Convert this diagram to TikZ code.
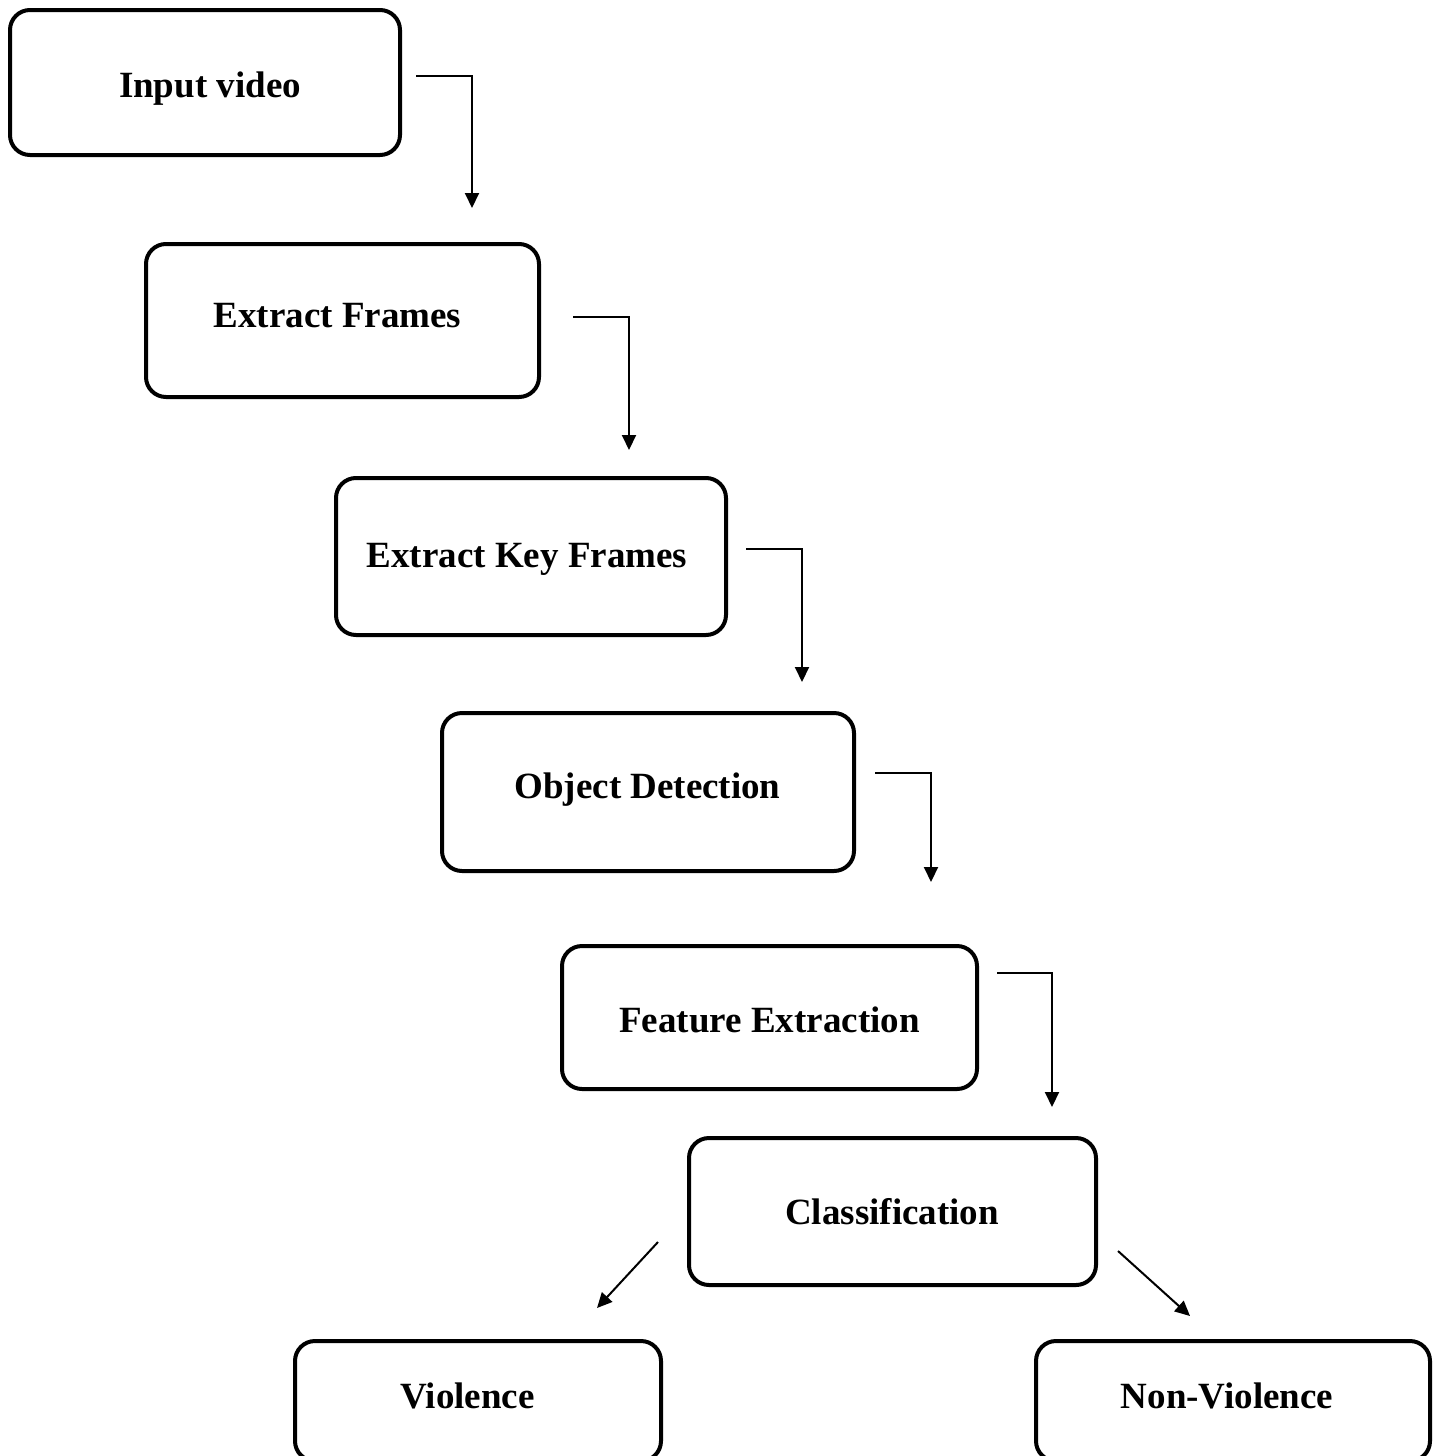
\documentclass[tikz,border=0pt]{standalone}
\usepackage{fontspec}
\setmainfont{Liberation Serif}
\usetikzlibrary{arrows.meta}
\begin{document}
\begin{tikzpicture}[x=1pt,y=-1pt,
  stepbox/.style={draw=black,line width=4pt,rounded corners=20pt,inner sep=0pt},
  lbl/.style={anchor=base,inner sep=0pt,font=\fontsize{37}{44}\selectfont\bfseries},
  conn/.style={line width=2pt,-{Triangle[width=14pt,length=15pt]}}]
\useasboundingbox (0,0) rectangle (1441,1456);
% boxes
\node[stepbox,minimum width=390pt,minimum height=145pt] (b1) at (205,82.5) {};
\node[stepbox,minimum width=393pt,minimum height=153pt] (b2) at (342.5,320.5) {};
\node[stepbox,minimum width=390pt,minimum height=157pt] (b3) at (531,556.5) {};
\node[stepbox,minimum width=412pt,minimum height=158pt] (b4) at (648,792) {};
\node[stepbox,minimum width=415pt,minimum height=143pt] (b5) at (769.5,1017.5) {};
\node[stepbox,minimum width=407pt,minimum height=147pt] (b6) at (892.5,1211.5) {};
\node[stepbox,minimum width=366pt,minimum height=120pt] (b7) at (478,1401) {};
\node[stepbox,minimum width=394pt,minimum height=120pt] (b8) at (1233,1401) {};
% labels
\node[lbl] (t1) at (210,97) {Input video};
\node[lbl] (t2) at (337.5,327.5) {Extract Frames};
\node[lbl] (t3) at (527,567) {Extract Key Frames};
\node[lbl] (t4) at (647.5,798) {Object Detection};
\node[lbl] (t5) at (769.5,1032) {Feature Extraction};
\node[lbl] (t6) at (892,1224) {Classification};
\node[lbl] (t7) at (467.5,1408) {Violence};
\node[lbl] (t8) at (1227,1408) {Non-Violence};
% connector points
\coordinate (c1s) at (416,76);  \coordinate (c1k) at (472,76);  \coordinate (c1e) at (472,208);
\coordinate (c2s) at (573,317); \coordinate (c2k) at (629,317); \coordinate (c2e) at (629,450);
\coordinate (c3s) at (746,549); \coordinate (c3k) at (802,549); \coordinate (c3e) at (802,682);
\coordinate (c4s) at (875,773); \coordinate (c4k) at (931,773); \coordinate (c4e) at (931,882);
\coordinate (c5s) at (997,973); \coordinate (c5k) at (1052,973); \coordinate (c5e) at (1052,1107);
\coordinate (c6s) at (658,1242); \coordinate (c6e) at (597,1308);
\coordinate (c7s) at (1118,1251); \coordinate (c7e) at (1190,1316);
% connectors
\draw[conn] (c1s) -- (c1k) -- (c1e);
\draw[conn] (c2s) -- (c2k) -- (c2e);
\draw[conn] (c3s) -- (c3k) -- (c3e);
\draw[conn] (c4s) -- (c4k) -- (c4e);
\draw[conn] (c5s) -- (c5k) -- (c5e);
\draw[conn] (c6s) -- (c6e);
\draw[conn] (c7s) -- (c7e);
\end{tikzpicture}
\end{document}
